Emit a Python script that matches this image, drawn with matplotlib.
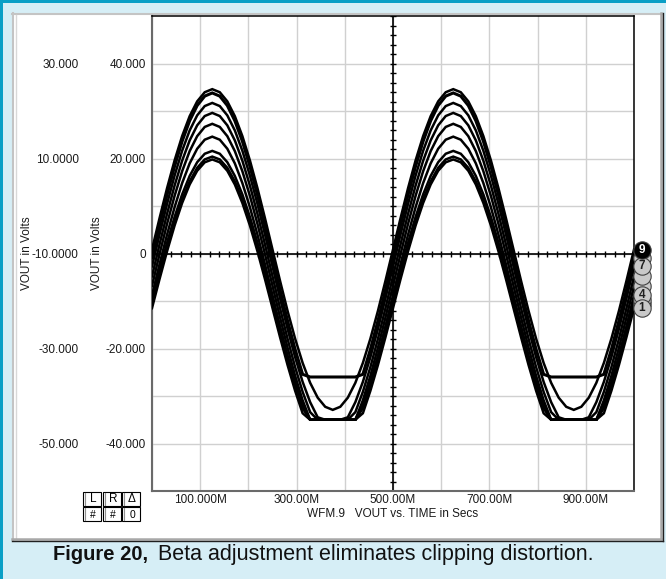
import numpy as np
import matplotlib
matplotlib.use("Agg")
from matplotlib import pyplot as plt
from matplotlib.patches import Rectangle
from matplotlib.lines import Line2D

plt.rcParams['font.family'] = ['Liberation Sans', 'DejaVu Sans']

# waveform data (curves 1..9)
curve_ids = [1, 2, 3, 4, 5, 6, 7, 8, 9]
offsets = [-11.5, -10.6, -9.7, -8.8, -6.8, -4.8, -2.7, -0.9, 0.84]   # value at t=0 (= end marker)
peaks = [19.8, 20.4, 21.6, 24.6, 27.3, 29.6, 31.7, 33.8, 34.6]
floors = [-35, -35, -35, -35, -35, -35, -35, -26, -35]            # negative clipping level
freq_hz = 2.0
n_steps = 64
shown_numbers = [1, 4, 7, 9]   # marker numbers readable in the stack

x_ticks = [0.1, 0.3, 0.5, 0.7, 0.9]
x_ticklabels = ["100.000M", "300.00M", "500.00M", "700.00M", "900.00M"]
y_ticks = [40, 20, 0, -20, -40]
y_ticklabels = ["40.000", "20.000", "0", "-20.000", "-40.000"]
y2_ticks = [30, 10, -10, -30, -50]
y2_ticklabels = ["30.000", "10.0000", "-10.0000", "-30.000", "-50.000"]

W, H = 666, 579


def fx(px):
    return px / W


def fy(py):
    return 1 - py / H


fig = plt.figure(figsize=(W / 100, H / 100), dpi=100)
fig.patch.set_facecolor('#d6eef6')

# teal frame lines (left and top)
fig.add_artist(Rectangle((0, 0), fx(3), 1, transform=fig.transFigure,
                         facecolor='#0a9fc6', edgecolor='none', zorder=-5))
fig.add_artist(Rectangle((0, fy(3)), 1, 3 / H, transform=fig.transFigure,
                         facecolor='#0a9fc6', edgecolor='none', zorder=-5))

# white panel with bevel
px0, py0, px1, py1 = 12, 13, 663, 541
fig.add_artist(Rectangle((fx(px0), fy(py1)), fx(px1) - fx(px0), fy(py0) - fy(py1),
                         transform=fig.transFigure, facecolor='white', edgecolor='none',
                         zorder=-4))


def fline(xs, ys, color, lw, z=-3):
    fig.add_artist(Line2D([fx(v) for v in xs], [fy(v) for v in ys],
                          transform=fig.transFigure, color=color, lw=lw, zorder=z))


fline([px0 + 1, px0 + 1], [py0, py1], '#c4c4c4', 1.5)
fline([px0, px1], [py0 + 1, py0 + 1], '#c4c4c4', 1.5)
fline([px0 + 3.5, px0 + 3.5], [py0 + 2, py1 - 3], '#d8d8d8', 1)
fline([px1 - 2, px1 - 2], [py0, py1 - 2], '#a8a8a8', 1.8)
fline([px0, px1 - 2], [py1 - 2, py1 - 2], '#a8a8a8', 1.8)
fline([px1, px1], [py0, py1], '#202020', 1)
fline([px0, px1], [py1, py1], '#202020', 1)

# plot axes
ax_l, ax_r, ax_t, ax_b = 152, 634, 16, 491
ax = fig.add_axes([fx(ax_l), fy(ax_b), fx(ax_r) - fx(ax_l), fy(ax_t) - fy(ax_b)])
ax.patch.set_alpha(0)
ax.set_xlim(0, 1)
ax.set_ylim(-50, 50)

t = np.linspace(0, 1, n_steps + 1)
ends = []
for cid, off, pk, fl in zip(curve_ids, offsets, peaks, floors):
    amp = pk - off
    v = off + amp * np.sin(2 * np.pi * freq_hz * t)
    v = np.clip(v, fl, None)
    ax.plot(t, v, color='black', lw=2.2 if fl > -35 else 1.8, zorder=3,
            solid_joinstyle='miter')
    ends.append(v[-1])

ax.set_xticks(x_ticks)
ax.set_xticklabels(x_ticklabels)
ax.set_xticks(np.arange(0, 1.01, 0.2), minor=True)
ax.set_yticks(y_ticks)
ax.set_yticklabels(y_ticklabels)
ax.set_yticks([30, 10, -10, -30], minor=True)
ax.grid(True, which='both', color='#d0d0d0', lw=1)
ax.set_axisbelow(True)
ax.tick_params(which='both', length=0)
ax.tick_params(axis='y', pad=4.3, labelsize=8.5, labelcolor='#1a1a1a')
ax.tick_params(axis='x', pad=2, labelsize=8.5, labelcolor='#1a1a1a')

for side in ['left', 'bottom']:
    ax.spines[side].set_color('#6a6a6a')
    ax.spines[side].set_linewidth(1.5)
for side in ['top', 'right']:
    ax.spines[side].set_color('black')
    ax.spines[side].set_linewidth(1.1)

# centre cross with small tick marks
ax.axhline(0, color='black', lw=1.2, zorder=2)
ax.axvline(0.5, color='black', lw=1.2, zorder=2)
ax.plot(np.arange(0, 1.001, 0.02), np.zeros(51), ls='none', marker='|',
        ms=4, mew=1, color='black', zorder=2)
ax.plot(np.full(51, 0.5), np.arange(-50, 50.1, 2), ls='none', marker='_',
        ms=4, mew=1, color='black', zorder=2)

ax.set_ylabel("VOUT in Volts", fontsize=8.5, va='center', color='#1a1a1a')
ax.yaxis.set_label_coords(-0.114, 0.5)
ax.set_xlabel("WFM.9   VOUT vs. TIME in Secs", fontsize=8.5, va='center', color='#1a1a1a')
ax.xaxis.set_label_coords(0.5, -0.0484)

# second (offset) voltage scale on the far left
ax2 = ax.twinx()
ax2.set_ylim(-60, 40)
ax2.yaxis.tick_left()
ax2.yaxis.set_label_position('left')
ax2.spines['left'].set_position(('axes', -0.149))
for side in ['left', 'right', 'top', 'bottom']:
    ax2.spines[side].set_visible(False)
ax2.set_yticks(y2_ticks)
ax2.set_yticklabels(y2_ticklabels)
ax2.tick_params(length=0, pad=1, labelsize=8.5, labelcolor='#1a1a1a')
ax2.set_ylabel("VOUT in Volts", fontsize=8.5, va='center', color='#1a1a1a')
ax2.yaxis.set_label_coords(-0.259, 0.5)

# numbered waveform markers at right end
z_order = {1: 8, 2: 5, 3: 5, 4: 7, 5: 4, 6: 4, 7: 6, 8: 3, 9: 9}
mx = (642 - ax_l) / (ax_r - ax_l)
for cid, yv in zip(curve_ids, ends):
    z = 10 + z_order[cid]
    fc = 'black' if cid == 9 else '#c9c9c9'
    tc = 'white' if cid == 9 else '#202020'
    ax.plot([mx], [yv], marker='o', ms=12.5, mfc=fc, mec='#404040', mew=0.8,
            clip_on=False, zorder=z)
    if cid in shown_numbers:
        ax.text(mx, yv, str(cid), ha='center', va='center', fontsize=8.5,
                fontweight='bold', color=tc, zorder=z + 0.5, clip_on=False)

# L R delta buttons
btn_cols = [83, 103, 122]
btn_rows = [492, 507]
btn_text = [["L", "R", "Δ"], ["#", "#", "0"]]
for r, yt in enumerate(btn_rows):
    for c, xl in enumerate(btn_cols):
        fig.add_artist(Rectangle((fx(xl), fy(yt + 14)), fx(18) - fx(0), 14 / H,
                                 transform=fig.transFigure, facecolor='white',
                                 edgecolor='black', lw=0.8))
        fline([xl + 2, xl + 2], [yt + 1, yt + 13], '#909090', 0.8, z=2)
        fig.text(fx(xl + 10), fy(yt + 7.5), btn_text[r][c], ha='center', va='center',
                 fontsize=8.5 if r == 0 else 7.5, color='black')

# caption
fig.text(fx(53), fy(560), "Figure 20,", fontsize=14.5, fontweight='bold',
         ha='left', va='baseline', color='#111111')
fig.text(fx(158), fy(560), "Beta adjustment eliminates clipping distortion.",
         fontsize=15.5, ha='left', va='baseline', color='#111111')

fig.savefig("out.png", dpi=100, facecolor=fig.get_facecolor())
